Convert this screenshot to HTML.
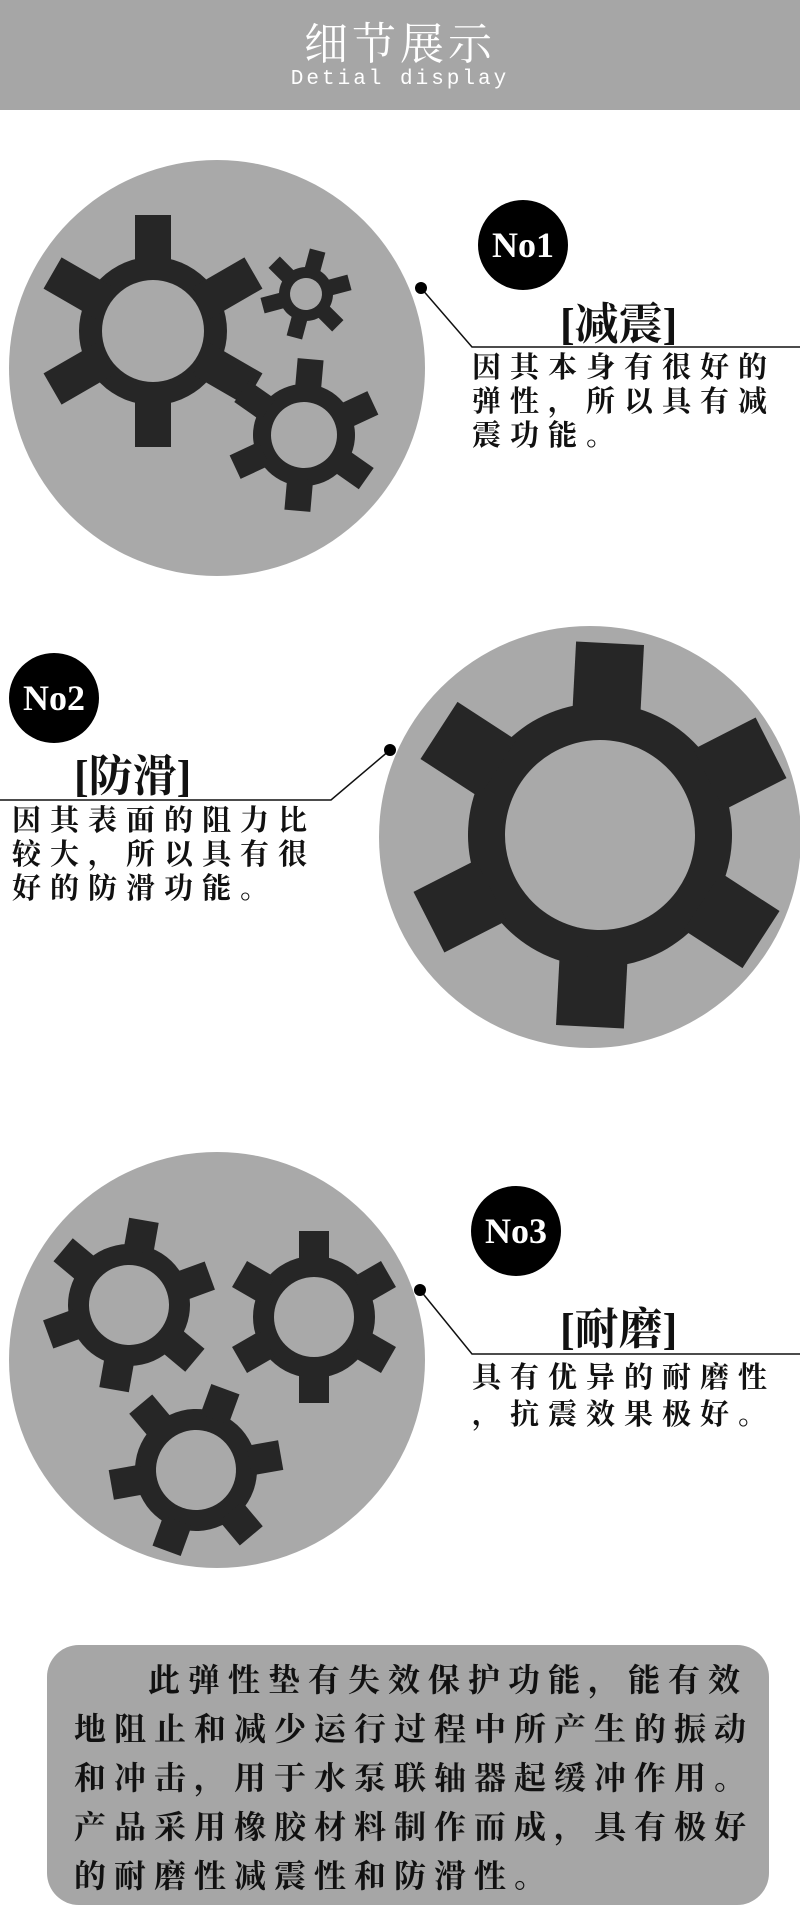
<!DOCTYPE html>
<html><head><meta charset="utf-8">
<style>
html,body{margin:0;padding:0;background:#fff;width:800px;height:1920px;overflow:hidden;position:relative}
.hd{position:absolute;left:0;top:0;width:800px;height:110px;background:#a6a6a6}
.t1{position:absolute;top:8px;width:800px;text-align:center;color:#fff;font:44px "Liberation Serif","Noto Serif CJK SC",serif;letter-spacing:4px}
.t2{position:absolute;top:68px;width:800px;text-align:center;color:#fff;font:21px "Liberation Mono",monospace;letter-spacing:3px}
.br{position:absolute;font:44px "Liberation Serif","Noto Serif CJK SC",serif;color:#111;white-space:nowrap;font-weight:bold}
.tx{position:absolute;font:bold 29px/34px "Liberation Serif","Noto Serif CJK SC",serif;color:#111;letter-spacing:9px;white-space:nowrap}
.box{position:absolute;left:47px;top:1645px;width:722px;height:260px;background:#a6a6a6;border-radius:32px}
.bt{position:absolute;left:74px;top:1656px;font:bold 32px/49px "Liberation Serif","Noto Serif CJK SC",serif;color:#111;letter-spacing:8px;white-space:nowrap}
</style></head><body>
<div class="hd"><div class="t1">细节展示</div><div class="t2">Detial display</div></div>
<svg width="800" height="1920" style="position:absolute;left:0;top:0">
<defs>
<clipPath id="c2"><circle cx="590" cy="837" r="211"/></clipPath>
</defs>
<circle cx="217" cy="368" r="208" fill="#a9a9a9"/>
<circle cx="590" cy="837" r="211" fill="#a9a9a9"/>
<circle cx="217" cy="1360" r="208" fill="#a9a9a9"/>
<g fill="#262626">
<g transform="translate(153,331)"><circle r="74"/><g id="l1"><rect x="-18" y="-116" width="36" height="60"/></g><use href="#l1" transform="rotate(60)"/><use href="#l1" transform="rotate(120)"/><use href="#l1" transform="rotate(180)"/><use href="#l1" transform="rotate(240)"/><use href="#l1" transform="rotate(300)"/><circle r="51" fill="#a9a9a9"/></g>
<g transform="translate(306,294) rotate(15)"><circle r="27"/><g id="l2"><rect x="-8" y="-45" width="16" height="24"/></g><use href="#l2" transform="rotate(60)"/><use href="#l2" transform="rotate(120)"/><use href="#l2" transform="rotate(180)"/><use href="#l2" transform="rotate(240)"/><use href="#l2" transform="rotate(300)"/><circle r="16" fill="#a9a9a9"/></g>
<g transform="translate(304,435) rotate(5)"><circle r="51"/><g id="l3"><rect x="-13" y="-76" width="26" height="32"/></g><use href="#l3" transform="rotate(60)"/><use href="#l3" transform="rotate(120)"/><use href="#l3" transform="rotate(180)"/><use href="#l3" transform="rotate(240)"/><use href="#l3" transform="rotate(300)"/><circle r="33" fill="#a9a9a9"/></g>
<g clip-path="url(#c2)"><g transform="translate(600,835) rotate(3)"><circle r="132"/><g id="l4"><rect x="-34" y="-192" width="68" height="70"/></g><use href="#l4" transform="rotate(60)"/><use href="#l4" transform="rotate(120)"/><use href="#l4" transform="rotate(180)"/><use href="#l4" transform="rotate(240)"/><use href="#l4" transform="rotate(300)"/><circle r="95" fill="#a9a9a9"/></g></g>
<g transform="translate(129,1305) rotate(10)"><circle r="61"/><g id="l5"><rect x="-15" y="-86" width="30" height="32"/></g><use href="#l5" transform="rotate(60)"/><use href="#l5" transform="rotate(120)"/><use href="#l5" transform="rotate(180)"/><use href="#l5" transform="rotate(240)"/><use href="#l5" transform="rotate(300)"/><circle r="40" fill="#a9a9a9"/></g>
<g transform="translate(314,1317) rotate(0)"><circle r="61"/><use href="#l5"/><use href="#l5" transform="rotate(60)"/><use href="#l5" transform="rotate(120)"/><use href="#l5" transform="rotate(180)"/><use href="#l5" transform="rotate(240)"/><use href="#l5" transform="rotate(300)"/><circle r="40" fill="#a9a9a9"/></g>
<g transform="translate(196,1470) rotate(20)"><circle r="61"/><use href="#l5"/><use href="#l5" transform="rotate(60)"/><use href="#l5" transform="rotate(120)"/><use href="#l5" transform="rotate(180)"/><use href="#l5" transform="rotate(240)"/><use href="#l5" transform="rotate(300)"/><circle r="40" fill="#a9a9a9"/></g>
</g>
<g stroke="#111" stroke-width="1.5" fill="none">
<polyline points="421,288 472,347 800,347"/>
<polyline points="390,750 331,800 0,800"/>
<polyline points="420,1290 472,1354 800,1354"/>
</g>
<g fill="#000">
<circle cx="421" cy="288" r="6"/><circle cx="390" cy="750" r="6"/><circle cx="420" cy="1290" r="6"/>
<circle cx="523" cy="245" r="45"/><circle cx="54" cy="698" r="45"/><circle cx="516" cy="1231" r="45"/>
</g>
<g fill="#fff" font-family="Liberation Serif,serif" font-weight="bold" font-size="36" text-anchor="middle">
<text x="523" y="257">No1</text><text x="54" y="710">No2</text><text x="516" y="1243">No3</text>
</g>
</svg>
<div class="br" style="left:560px;top:288px">[减震]</div>
<div class="tx" style="left:472px;top:351px">因其本身有很好的<br>弹性，所以具有减<br>震功能。</div>
<div class="br" style="left:74px;top:740px">[防滑]</div>
<div class="tx" style="left:12px;top:804px">因其表面的阻力比<br>较大，所以具有很<br>好的防滑功能。</div>
<div class="br" style="left:560px;top:1293px">[耐磨]</div>
<div class="tx" style="left:472px;top:1360px;line-height:37px">具有优异的耐磨性<br>，抗震效果极好。</div>
<div class="box"></div>
<div class="bt"><span style="display:inline-block;width:74px"></span>此弹性垫有失效保护功能，能有效<br>地阻止和减少运行过程中所产生的振动<br>和冲击，用于水泵联轴器起缓冲作用。<br>产品采用橡胶材料制作而成，具有极好<br>的耐磨性减震性和防滑性。</div>
</body></html>
